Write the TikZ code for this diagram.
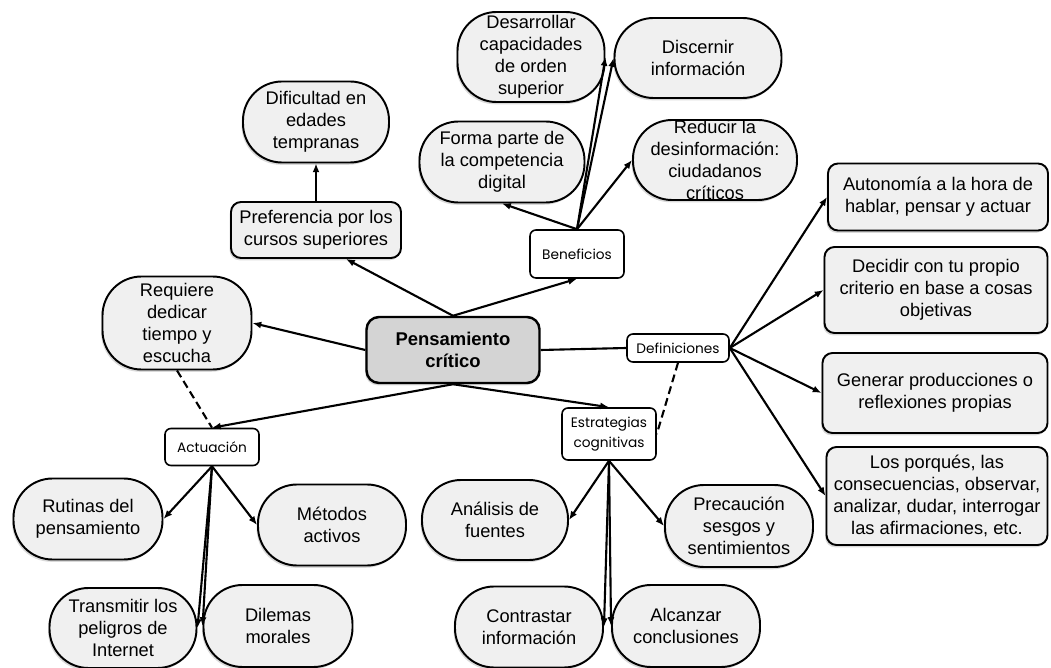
\documentclass[tikz,border=0pt]{standalone}
\usepackage{fontspec}
\setmainfont{Liberation Sans}
\newfontfamily\gotica{Poppins}
\usetikzlibrary{arrows.meta, shadows}
\definecolor{grisclaro}{RGB}{240,240,240}
\definecolor{grismedio}{RGB}{212,212,212}

\begin{document}
\begin{tikzpicture}[x=0.02cm, y=-0.02cm,
    font=\fontsize{10.4}{12.6}\selectfont,
    tam/.style 2 args={minimum width=#1*0.02cm, minimum height=#2*0.02cm},
    sombra/.style={drop shadow={opacity=0.3, shadow xshift=-0.8pt, shadow yshift=-1.3pt}},
    idea/.style={draw, line width=1.1pt, fill=grisclaro, rounded corners=0.78cm,
                 align=center, inner sep=0pt, sombra},
    caja/.style={idea, rounded corners=0.2cm},
    etiqueta/.style={draw, line width=0.9pt, fill=white, rounded corners=0.12cm,
                     align=center, inner sep=0pt, font=\gotica\fontsize{7.8}{11.5}\selectfont},
    flecha/.style={line width=1.2pt, -{Latex[length=5pt, width=4pt]}},
    enlace/.style={line width=1.2pt, dash pattern=on 4.5pt off 2.5pt}]

    \useasboundingbox (0,0) rectangle (1051,668);

    % nodo central
    \node[caja, tam={173}{66}, fill=grismedio, rounded corners=0.25cm, line width=1.4pt,
          font=\bfseries\fontsize{10.5}{12.6}\selectfont] (pc) at (453,350) {Pensamiento\\crítico};

    % rama superior izquierda
    \node[idea, tam={146}{81}] (dif) at (316,122) {Dificultad en\\edades\\tempranas};
    \node[caja, tam={170}{56}] (pref) at (316,230) {Preferencia por los\\cursos superiores};

    % beneficios
    \node[idea, tam={147}{90}] (des) at (531,57) {Desarrollar\\capacidades\\de orden\\superior};
    \node[idea, tam={167}{80}] (dis) at (698,58) {Discernir\\información};
    \node[idea, tam={165}{81}] (for) at (502,162) {Forma parte de\\la competencia\\digital};
    \node[idea, tam={164}{80}] (red) at (715,160) {Reducir la\\desinformación:\\ciudadanos\\críticos};
    \node[etiqueta, tam={94}{48}] (ben) at (577,254) {Beneficios};

    % definiciones
    \node[caja, tam={220}{67}] (aut) at (938,197) {Autonomía a la hora de\\hablar, pensar y actuar};
    \node[caja, tam={223}{86}] (dec) at (936,290) {Decidir con tu propio\\criterio en base a cosas\\objetivas};
    \node[caja, tam={225}{80}] (gen) at (935,393) {Generar producciones o\\reflexiones propias};
    \node[caja, tam={221}{98}] (los) at (937,496) {Los porqués, las\\consecuencias, observar,\\analizar, dudar, interrogar\\las afirmaciones, etc.};
    \node[etiqueta, tam={102}{28}] (def) at (678,348) {Definiciones};

    % estrategias cognitivas
    \node[etiqueta, tam={94}{52}] (est) at (609,434) {Estrategias\\cognitivas};
    \node[idea, tam={146}{80}] (ana) at (495,520) {Análisis de\\fuentes};
    \node[idea, tam={148}{82}] (pre) at (739,526) {Precaución\\sesgos y\\sentimientos};
    \node[idea, tam={148}{81}] (con) at (529,627) {Contrastar\\información};
    \node[idea, tam={148}{82}] (alc) at (686,626) {Alcanzar\\conclusiones};

    % actuacion
    \node[idea, tam={149}{93}] (req) at (177,323) {Requiere\\dedicar\\tiempo y\\escucha};
    \node[etiqueta, tam={94}{37}] (act) at (212,447) {Actuación};
    \node[idea, tam={149}{81}] (rut) at (88,519) {Rutinas del\\pensamiento};
    \node[idea, tam={148}{81}] (met) at (332,525) {Métodos\\activos};
    \node[idea, tam={147}{80}] (tra) at (123,628) {Transmitir los\\peligros de\\Internet};
    \node[idea, tam={149}{82}] (dil) at (278,626) {Dilemas\\morales};

    % conexiones
    \draw[flecha] (pc.north) -- (pref.-44);
    \draw[flecha] (pref.north) -- (dif.south);
    \draw[flecha] (pc.north) -- (ben.south);
    \foreach \d in {for.south, des.east, dis.west, red.west}
        \draw[flecha] (ben.north) -- (\d);
    \draw[flecha] (pc.west) -- (req.east);
    \draw[flecha] (pc.south) -- (act.north);
    \draw[enlace] (req.south) -- (act.north);
    \foreach \d in {rut.east, met.west, tra.east, dil.west}
        \draw[flecha] (act.south) -- (\d);
    \draw[line width=1.2pt] (pc.east) -- (def.west);
    \draw[flecha] (pc.south) -- (est.north);
    \draw[enlace] (def.south) -- (est.east);
    \foreach \d in {aut.west, dec.west, gen.west, los.west}
        \draw[flecha] (def.east) -- (\d);
    \foreach \d in {ana.east, pre.west, con.east, alc.west}
        \draw[flecha] (est.south) -- (\d);
\end{tikzpicture}
\end{document}
